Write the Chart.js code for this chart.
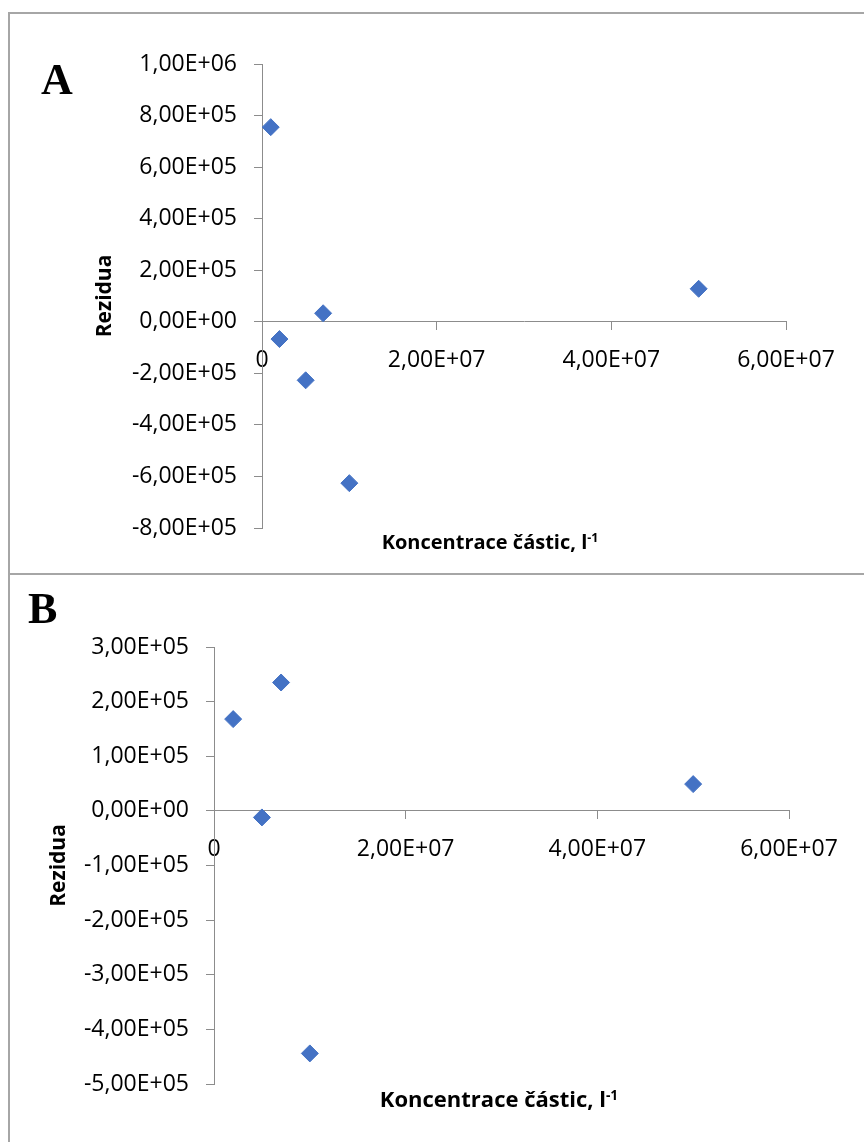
<!DOCTYPE html>
<html>
<head>
<meta charset="utf-8">
<script src="https://cdn.jsdelivr.net/npm/chart.js@4.4.0/dist/chart.umd.min.js"></script>
<style>
  body { margin: 0; background: #fff; }
  #page { position: relative; width: 864px; height: 1142px; overflow: hidden; font-family: "Open Sans", sans-serif; }
  .line { position: absolute; background: #a6a6a6; }
  canvas { position: absolute; left: 0; }
  .letter { position: absolute; font-family: "Liberation Serif", serif; font-weight: bold; font-size: 44px; line-height: 44px; }
  .xtitle { position: absolute; font-weight: bold; white-space: nowrap; line-height: 1; transform: translateX(-50%); }
  .xtitle sup { font-size: 0.62em; line-height: 0; vertical-align: 0.55em; }
</style>
</head>
<body>
<div id="page">
  <canvas id="chartA" width="864" height="574" style="top:0"></canvas>
  <canvas id="chartB" width="864" height="568" style="top:574px"></canvas>

  <div class="line" style="left:8px;top:12px;width:856px;height:2px"></div>
  <div class="line" style="left:8px;top:573px;width:856px;height:2px"></div>
  <div class="line" style="left:8px;top:12px;width:2px;height:1130px"></div>

  <div class="letter" style="left:41px;top:58px">A</div>
  <div class="letter" style="left:28px;top:587px">B</div>

  <div class="xtitle" style="left:490px;top:532px;font-size:20px">Koncentrace částic, l<sup>-1</sup></div>
  <div class="xtitle" style="left:499px;top:1087px;font-size:22px">Koncentrace částic, l<sup>-1</sup></div>
</div>

<script>
// panel A - rezidua
const concA = [1e6, 2e6, 5e6, 7e6, 1e7, 5e7];
const residA = [7.55e5, -6.7e4, -2.27e5, 3.3e4, -6.26e5, 1.28e5];
// panel B
const concB = [2e6, 5e6, 7e6, 1e7, 5e7];
const residB = [1.68e5, -1.2e4, 2.35e5, -4.44e5, 4.9e4];

const xTicks = [0, 2e7, 4e7, 6e7];
const yTicksA = [-8e5, -6e5, -4e5, -2e5, 0, 2e5, 4e5, 6e5, 8e5, 1e6];
const yTicksB = [-5e5, -4e5, -3e5, -2e5, -1e5, 0, 1e5, 2e5, 3e5];

const axisGrey = '#8c8c8c';
const blue = '#4472C4';
const fam = '"Open Sans", sans-serif';

// excel style: 2,00E+07
function sci(v) {
    if (Math.abs(v) < 1e-6) v = 0;
    const parts = v.toExponential(2).split('e');
    const ex = parseInt(parts[1], 10);
    return parts[0].replace('.', ',') + 'E' + (ex < 0 ? '-' : '+') + String(Math.abs(ex)).padStart(2, '0');
}

function makeChart(id, xs, ys, yTicks, o) {
    const pts = xs.map((x, i) => ({ x: x, y: ys[i] }));
    return new Chart(document.getElementById(id), {
        type: 'scatter',
        data: {
            datasets: [{
                data: pts,
                pointStyle: 'rectRot',
                pointRadius: 8.5,
                pointHoverRadius: 8.5,
                backgroundColor: blue,
                borderColor: blue,
                borderWidth: 1
            }]
        },
        options: {
            responsive: false,
            animation: false,
            events: [],
            layout: { padding: { left: 0, top: o.top, right: o.right, bottom: o.bottom } },
            plugins: { legend: { display: false }, tooltip: { enabled: false } },
            scales: {
                x: {
                    type: 'linear',
                    position: { y: 0 },
                    min: xTicks[0],
                    max: xTicks[xTicks.length - 1],
                    afterBuildTicks: s => { s.ticks = xTicks.map(v => ({ value: v })); },
                    grid: { display: true, drawOnChartArea: false, drawTicks: true, tickLength: 8, color: axisGrey },
                    border: { display: true, color: axisGrey, width: 1 },
                    ticks: {
                        font: { family: fam, size: 23 },
                        color: '#000',
                        padding: 17,
                        maxRotation: 0,
                        autoSkip: false,
                        callback: v => v === 0 ? '0' : sci(v)
                    }
                },
                y: {
                    type: 'linear',
                    min: yTicks[0],
                    max: yTicks[yTicks.length - 1],
                    afterBuildTicks: s => { s.ticks = yTicks.map(v => ({ value: v })); },
                    afterFit: s => { s.width = o.axisX; },
                    grid: { display: true, drawOnChartArea: false, drawTicks: true, tickLength: 8, color: axisGrey },
                    border: { display: true, color: axisGrey, width: 1 },
                    ticks: {
                        font: { family: fam, size: 23 },
                        color: '#000',
                        padding: 17,
                        autoSkip: false,
                        callback: v => sci(v)
                    },
                    title: {
                        display: true,
                        text: 'Rezidua',
                        color: '#000',
                        font: { family: fam, size: 21, weight: 'bold' },
                        padding: { top: o.titlePad, bottom: 0 }
                    }
                }
            }
        }
    });
}

makeChart('chartA', concA, residA, yTicksA, { top: 64, bottom: 46, right: 78, axisX: 262, titlePad: 92 });
makeChart('chartB', concB, residB, yTicksB, { top: 73, bottom: 58, right: 75, axisX: 214, titlePad: 46 });
</script>
</body>
</html>
